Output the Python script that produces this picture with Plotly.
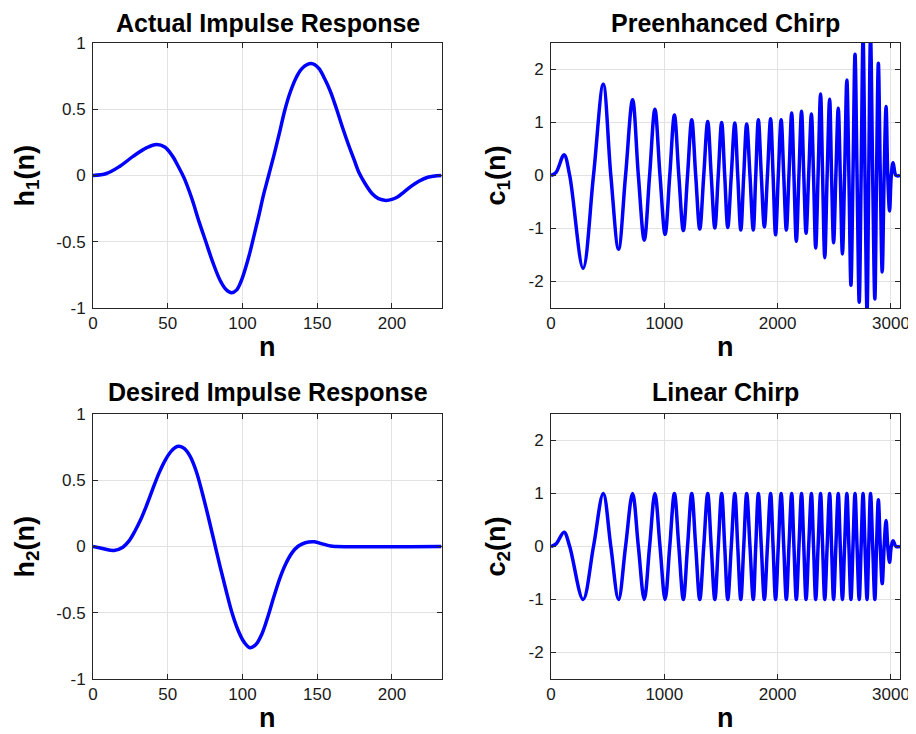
import plotly.graph_objects as go

# ---------------- data ----------------
# Actual impulse response h1(n)
h1_n = [0, 9, 18, 27, 36, 42.5, 48, 53, 57, 61, 66, 71, 75.5, 80, 85, 89, 92.7,
        96, 99, 102, 105, 108, 111, 114, 117.5, 121, 124.5, 128.5, 132, 136,
        140, 146, 151, 155, 159, 163, 167, 171, 175, 178, 182, 187, 191, 196,
        200, 204, 208, 213, 218, 224, 233]
h1_v = [0, 0.015, 0.07, 0.146, 0.21, 0.234, 0.215, 0.15, 0.07, -0.02, -0.17,
        -0.35, -0.5, -0.65, -0.79, -0.86, -0.885, -0.865, -0.8, -0.7, -0.58,
        -0.44, -0.3, -0.15, 0.0, 0.15, 0.31, 0.5, 0.63, 0.74, 0.81, 0.845,
        0.81, 0.73, 0.63, 0.5, 0.36, 0.23, 0.11, 0.02, -0.06, -0.14, -0.175,
        -0.188, -0.18, -0.16, -0.125, -0.08, -0.043, -0.013, 0]

# Desired impulse response h2(n)
h2_n = [0, 7, 14, 20, 24, 28, 32, 36, 40, 44, 48, 52, 55, 57.6, 61, 65, 69, 73,
        77, 81, 85, 89, 93, 97, 101, 105, 109, 113, 117, 121, 125, 129, 133,
        137, 142, 148, 154, 159, 163, 233]
h2_v = [0, -0.017, -0.03, -0.005, 0.04, 0.115, 0.205, 0.315, 0.435, 0.55,
        0.645, 0.715, 0.748, 0.757, 0.74, 0.68, 0.57, 0.41, 0.23, 0.04, -0.15,
        -0.33, -0.5, -0.63, -0.72, -0.764, -0.74, -0.66, -0.53, -0.38, -0.24,
        -0.13, -0.05, 0.0, 0.028, 0.035, 0.018, 0.003, 0.0, 0.0]

# Chirps: sample positions of the extrema (shared by both chirps)
chirp_key_n = [45, 115, 283, 461, 596, 720, 823, 917, 1007, 1089,
               1168, 1242, 1313, 1383, 1446, 1506, 1560, 1622, 1675, 1727,
               1785, 1830, 1883, 1938, 1982, 2031, 2077, 2124, 2165, 2211,
               2251, 2298, 2336, 2379, 2416, 2459, 2494, 2535, 2572, 2611,
               2647, 2683, 2720, 2754, 2789, 2820, 2858, 2889, 2923, 2957,
               2988, 3019]
# Preenhanced chirp c1(n) values at those extrema
c1_key = [0.06, 0.39, -1.75, 1.72, -1.39, 1.43, -1.22, 1.25, -1.11, 1.14,
          -1.04, 1.05, -1.01, 1.02, -0.99, 1.00, -0.98, 0.99, -1.03, 0.97,
          -1.03, 1.05, -0.97, 1.07, -1.12, 1.05, -1.03, 1.18, -1.24, 1.21,
          -1.09, 1.16, -1.37, 1.54, -1.55, 1.44, -1.27, 1.27, -1.48, 1.80,
          -2.07, 2.29, -2.39, 2.62, -2.58, 2.62, -2.33, 2.12, -1.82, 1.30,
          -0.67, 0.24]
# Linear chirp c2(n) values at those extrema
c2_key = [0.05, 0.27, -1.0, 1.0, -1.0, 1.0, -1.0, 1.0, -1.0, 1.0,
          -1.0, 1.0, -1.0, 1.0, -1.0, 1.0, -1.0, 1.0, -1.0, 1.0,
          -1.0, 1.0, -1.0, 1.0, -1.0, 1.0, -1.0, 1.0, -1.0, 1.0,
          -1.0, 1.0, -1.0, 1.0, -1.0, 1.0, -1.0, 1.0, -1.0, 1.0,
          -1.0, 1.0, -1.0, 1.0, -1.0, 1.0, -1.0, 0.88, -0.70, 0.49,
          -0.30, 0.11]
# Positions where both chirps sit on zero (crossings, start and tail)
chirp_zero_n = [0, 165, 375, 528, 658, 771, 870, 962, 1048, 1128, 1205, 1277,
                1348, 1414, 1476, 1533, 1591, 1648, 1701, 1756, 1807, 1856,
                1910, 1960, 2006, 2054, 2100, 2144, 2188, 2231, 2274, 2317,
                2357, 2397, 2437, 2476, 2514, 2553, 2591, 2629, 2665, 2701,
                2737, 2771, 2804, 2839, 2873, 2906, 2940, 2972, 3003, 3045,
                3080]

h_xticks = [0, 50, 100, 150, 200]
h_yticks = [-1, -0.5, 0, 0.5, 1]
h_yticklabels = ["-1", "-0.5", "0", "0.5", "1"]
c_xticks = [0, 1000, 2000, 3000]
c_yticks = [-2, -1, 0, 1, 2]
c_yticklabels = ["-2", "-1", "0", "1", "2"]

titles = ["Actual Impulse Response", "Preenhanced Chirp",
          "Desired Impulse Response", "Linear Chirp"]
ylabels = ["h<sub>1</sub>(n)", "c<sub>1</sub>(n)", "h<sub>2</sub>(n)", "c<sub>2</sub>(n)"]


def merged(key_n, key_v, zero_n):
    pts = sorted(list(zip(key_n, key_v)) + [(z, 0.0) for z in zero_n])
    return [p[0] for p in pts], [p[1] for p in pts]


c1_n, c1_v = merged(chirp_key_n, c1_key, chirp_zero_n)
c2_n, c2_v = merged(chirp_key_n, c2_key, chirp_zero_n)

# ---------------- figure ----------------
# the page body adds an 8 px margin, so the figure is 8 px smaller on each
# axis and every page position below is shifted by that offset
OFF = 8
W, H = 916 - OFF, 734 - OFF
FONT = "Liberation Sans, Arial, Helvetica, sans-serif"
BLUE = "#0000ff"
line = dict(color=BLUE, width=3.5, shape="spline", smoothing=1)

fig = go.Figure()
fig.add_trace(go.Scatter(x=h1_n, y=h1_v, mode="lines", line=line, xaxis="x", yaxis="y"))
fig.add_trace(go.Scatter(x=c1_n, y=c1_v, mode="lines", line=line, xaxis="x2", yaxis="y2"))
fig.add_trace(go.Scatter(x=h2_n, y=h2_v, mode="lines", line=line, xaxis="x3", yaxis="y3"))
fig.add_trace(go.Scatter(x=c2_n, y=c2_v, mode="lines", line=line, xaxis="x4", yaxis="y4"))

# page-pixel boxes of the four axes (left, right, top, bottom)
boxes = [(93, 442, 43, 308), (551, 900, 43, 308),
         (93, 442, 414, 679), (551, 900, 414, 679)]

common = dict(showline=True, mirror="ticks", linecolor="#262626", linewidth=1,
              ticks="inside", ticklen=5, tickcolor="#262626", tickwidth=1,
              showgrid=True, gridcolor="#e2e2e2", gridwidth=1, zeroline=False,
              automargin=False,
              tickfont=dict(family=FONT, size=17, color="#1a1a1a"))

layout = dict(width=W, height=H, autosize=False,
              margin=dict(l=0, r=0, t=0, b=0, pad=0),
              paper_bgcolor="white", plot_bgcolor="white",
              showlegend=False, font=dict(family=FONT))


def px(xp):
    return (xp - OFF) / W


def py(yp):
    return 1 - (yp - OFF) / H


annotations = []
for i, (l, r, t, b) in enumerate(boxes):
    k = "" if i == 0 else str(i + 1)
    is_h = i in (0, 2)
    xa = dict(common, domain=[px(l), px(r)], anchor="y" + k,
              range=[0, 233.5] if is_h else [0, 3080],
              tickvals=h_xticks if is_h else c_xticks)
    ya = dict(common, domain=[py(b), py(t)], anchor="x" + k,
              range=[-1, 1] if is_h else [-2.5, 2.5],
              tickvals=h_yticks if is_h else c_yticks,
              ticktext=h_yticklabels if is_h else c_yticklabels,
              ticklabelstandoff=3)
    layout["xaxis" + k] = xa
    layout["yaxis" + k] = ya
    cx = px((l + r) / 2)
    # title: top of its text box just above the capitals
    annotations.append(dict(text="<b>%s</b>" % titles[i], x=cx, xref="paper",
                            y=min(1.0, py(t - 37)), yref="paper", xanchor="center",
                            yanchor="top", showarrow=False, borderpad=0,
                            font=dict(family=FONT, size=25, color="black")))
    # x label: bottom of its text box ~7 px under the baseline
    annotations.append(dict(text="<b>n</b>", x=cx, xref="paper",
                            y=max(0.0, py(b + 55)), yref="paper", xanchor="center",
                            yanchor="bottom", showarrow=False, borderpad=0,
                            font=dict(family=FONT, size=27, color="black")))
    # y label
    lx = (l - 67) if is_h else (l - 54)
    annotations.append(dict(text="<b>%s</b>" % ylabels[i], x=px(lx), xref="paper",
                            y=py((t + b) / 2), yref="paper", xanchor="center",
                            yanchor="middle", textangle=-90, showarrow=False,
                            font=dict(family=FONT, size=27, color="black")))

layout["annotations"] = annotations
fig.update_layout(**layout)
fig.write_html("out.html")
